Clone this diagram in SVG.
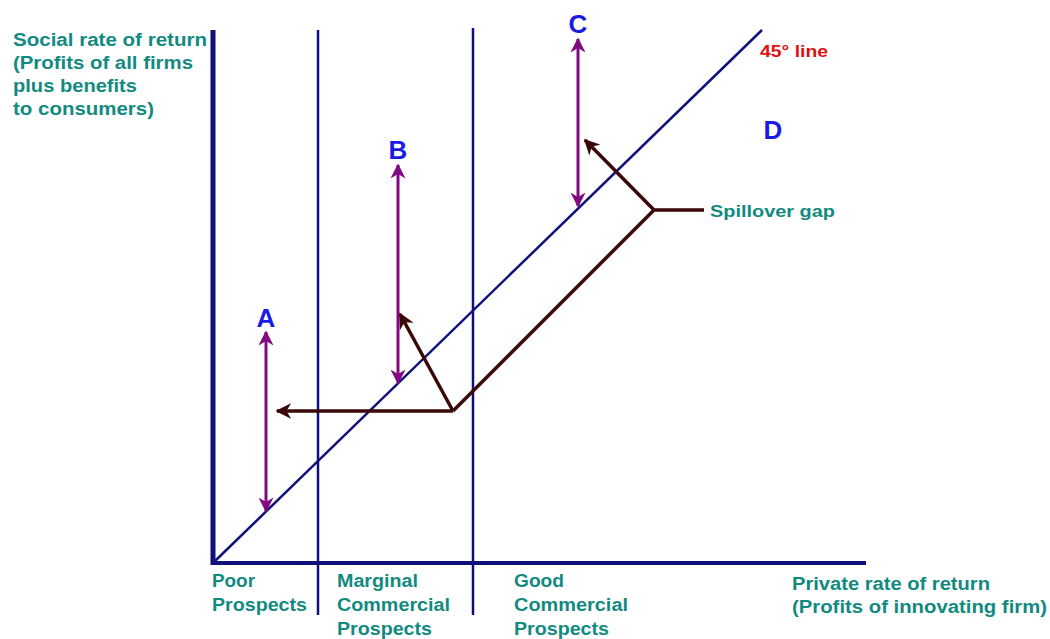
<svg xmlns="http://www.w3.org/2000/svg" width="1050" height="639" viewBox="0 0 1050 639">
<style>
.t{font-family:"Liberation Sans",Arial,sans-serif;font-weight:bold;font-size:18px;fill:#138a80}
.L{font-family:"Liberation Sans",Arial,sans-serif;font-weight:bold;font-size:26px;fill:#1a1ae6}
.ax{stroke:#10107a;fill:none}
.pu{stroke:#800a80;stroke-width:3;fill:none}
.br{stroke:#3a0808;stroke-width:3.5;fill:none}
</style>
<defs>
<marker id="pa" viewBox="0 0 10 10" refX="9" refY="5" markerWidth="5" markerHeight="5" orient="auto-start-reverse" markerUnits="strokeWidth">
<path d="M0,0 L10,5 L0,10 L3,5 Z" fill="#800a80"/>
</marker>
<marker id="ba" viewBox="0 0 10 10" refX="9" refY="5" markerWidth="4.5" markerHeight="4.5" orient="auto" markerUnits="strokeWidth">
<path d="M0,0 L10,5 L0,10 L3,5 Z" fill="#3a0808"/>
</marker>
</defs>
<rect width="1050" height="639" fill="#fff"/>
<g id="axes">
<line class="ax" x1="213" y1="30" x2="213" y2="565" stroke-width="5"/>
<line class="ax" x1="211" y1="563" x2="866" y2="563" stroke-width="4"/>
<line class="ax" x1="318" y1="30" x2="318" y2="615" stroke-width="2.5"/>
<line class="ax" x1="473" y1="28" x2="473" y2="615" stroke-width="2.5"/>
<line class="ax" x1="215" y1="561" x2="762" y2="30" stroke-width="2.5"/>
</g>
<g id="connectors">
<line class="pu" x1="266" y1="332" x2="266" y2="511" marker-start="url(#pa)" marker-end="url(#pa)"/>
<line class="pu" x1="398" y1="165" x2="398" y2="383" marker-start="url(#pa)" marker-end="url(#pa)"/>
<line class="pu" x1="578" y1="39" x2="578" y2="206" marker-start="url(#pa)" marker-end="url(#pa)"/>
<line class="br" x1="453" y1="411" x2="277" y2="411" marker-end="url(#ba)"/>
<line class="br" x1="453" y1="411" x2="400" y2="314" marker-end="url(#ba)"/>
<polyline class="br" points="453,411 654,210 704,210"/>
<line class="br" x1="654" y1="210" x2="585" y2="140" marker-end="url(#ba)"/>
</g>
<g id="labels">
<text class="L" x="266" y="327" text-anchor="middle">A</text>
<text class="L" x="398" y="159" text-anchor="middle">B</text>
<text class="L" x="578" y="33" text-anchor="middle">C</text>
<text class="L" x="773" y="139" text-anchor="middle">D</text>
<text x="760" y="57" textLength="68" lengthAdjust="spacingAndGlyphs" style="font-family:'Liberation Sans',Arial,sans-serif;font-weight:bold;font-size:17px;fill:#e01010">45° line</text>
<text class="t" x="710" y="217" textLength="125" lengthAdjust="spacingAndGlyphs" style="font-size:16px">Spillover gap</text>
</g>
<g id="yaxis-title">
<text class="t" x="13" y="46" textLength="194" lengthAdjust="spacingAndGlyphs">Social rate of return</text>
<text class="t" x="13" y="69" textLength="180" lengthAdjust="spacingAndGlyphs">(Profits of all firms</text>
<text class="t" x="13" y="92" textLength="124" lengthAdjust="spacingAndGlyphs">plus benefits</text>
<text class="t" x="13" y="115" textLength="141" lengthAdjust="spacingAndGlyphs">to consumers)</text>
</g>
<g id="xaxis-title">
<text class="t" x="792" y="590" textLength="198" lengthAdjust="spacingAndGlyphs">Private rate of return</text>
<text class="t" x="792" y="613" textLength="255" lengthAdjust="spacingAndGlyphs">(Profits of innovating firm)</text>
</g>
<g id="regions">
<text class="t" x="212" y="587" textLength="43" lengthAdjust="spacingAndGlyphs">Poor</text>
<text class="t" x="212" y="611" textLength="95" lengthAdjust="spacingAndGlyphs">Prospects</text>
<text class="t" x="337" y="587" textLength="81" lengthAdjust="spacingAndGlyphs">Marginal</text>
<text class="t" x="337" y="611" textLength="113" lengthAdjust="spacingAndGlyphs">Commercial</text>
<text class="t" x="337" y="635" textLength="95" lengthAdjust="spacingAndGlyphs">Prospects</text>
<text class="t" x="514" y="587" textLength="50" lengthAdjust="spacingAndGlyphs">Good</text>
<text class="t" x="514" y="611" textLength="114" lengthAdjust="spacingAndGlyphs">Commercial</text>
<text class="t" x="514" y="635" textLength="95" lengthAdjust="spacingAndGlyphs">Prospects</text>
</g>
</svg>
